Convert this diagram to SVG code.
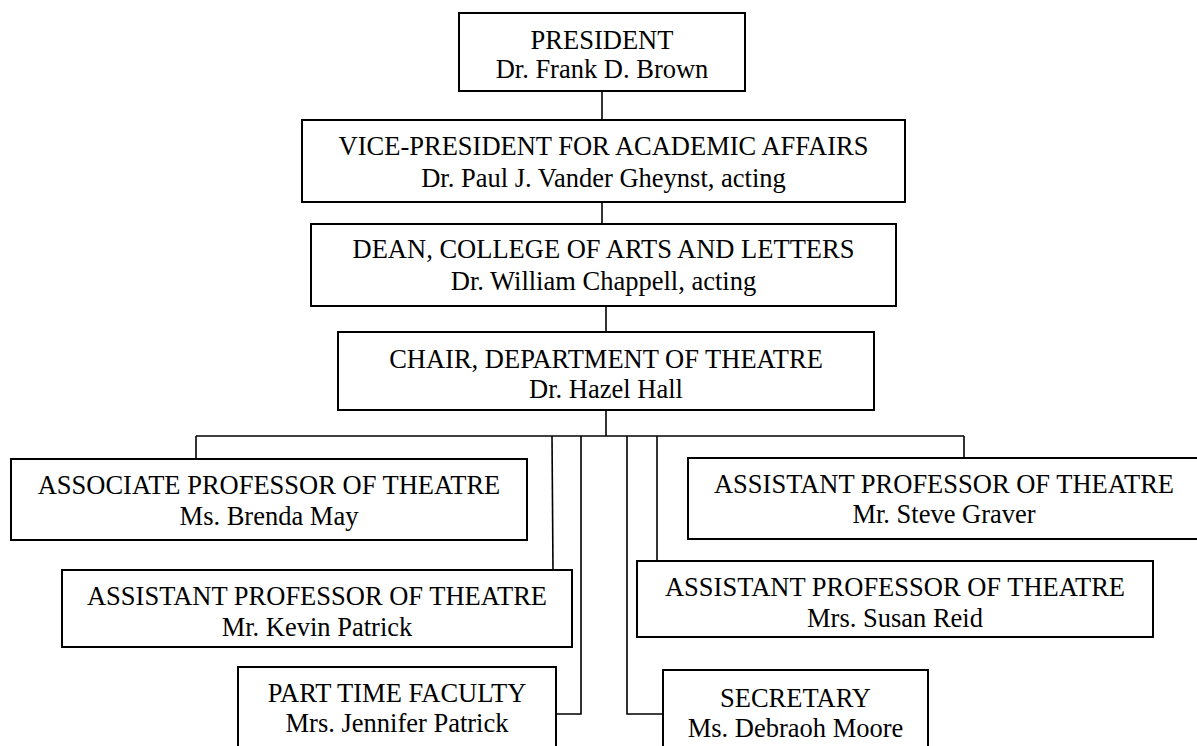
<svg xmlns="http://www.w3.org/2000/svg" width="1197" height="746" viewBox="0 0 1197 746">
<style>
.box{fill:#fff;stroke:#000;stroke-width:2}
text{font-family:'Liberation Serif','Times New Roman',Times,serif;font-size:26.5px;fill:#000;text-anchor:middle}
.c{fill:none;stroke:#000;stroke-width:1.6}
</style>
<rect width="1197" height="746" fill="#fff"/>
<g id="connectors">
<path class="c" d="M602 91V120"/>
<path class="c" d="M602 202V224"/>
<path class="c" d="M606 306V332"/>
<path class="c" d="M606 410V436"/>
<path class="c" d="M196 436H964"/>
<path class="c" d="M196 436V459"/>
<path class="c" d="M964 436V458"/>
<path class="c" d="M552 436L553 570"/>
<path class="c" d="M581 436V714H556"/>
<path class="c" d="M627 436V714H663"/>
<path class="c" d="M657 436V561"/>
</g>
<g id="president">
<rect class="box" x="459" y="13" width="286" height="78"/>
<text x="602" y="49">PRESIDENT</text>
<text x="602" y="78">Dr. Frank D. Brown</text>
</g>
<g id="vp">
<rect class="box" x="302" y="120" width="603" height="82"/>
<text x="603.5" y="155">VICE-PRESIDENT FOR ACADEMIC AFFAIRS</text>
<text x="603.5" y="187">Dr. Paul J. Vander Gheynst, acting</text>
</g>
<g id="dean">
<rect class="box" x="311" y="224" width="585" height="82"/>
<text x="603.5" y="258">DEAN, COLLEGE OF ARTS AND LETTERS</text>
<text x="603.5" y="290">Dr. William Chappell, acting</text>
</g>
<g id="chair">
<rect class="box" x="338" y="332" width="536" height="78"/>
<text x="606" y="368">CHAIR, DEPARTMENT OF THEATRE</text>
<text x="606" y="398">Dr. Hazel Hall</text>
</g>
<g id="associate">
<rect class="box" x="11" y="459" width="516" height="81"/>
<text x="269" y="494">ASSOCIATE PROFESSOR OF THEATRE</text>
<text x="269" y="525">Ms. Brenda May</text>
</g>
<g id="kevin">
<rect class="box" x="62" y="570" width="510" height="77"/>
<text x="317" y="605">ASSISTANT PROFESSOR OF THEATRE</text>
<text x="317" y="636">Mr. Kevin Patrick</text>
</g>
<g id="parttime">
<rect class="box" x="238" y="667" width="318" height="100"/>
<text x="397" y="702">PART TIME FACULTY</text>
<text x="397" y="732">Mrs. Jennifer Patrick</text>
</g>
<g id="steve">
<rect class="box" x="688" y="458" width="512" height="81"/>
<text x="944" y="493">ASSISTANT PROFESSOR OF THEATRE</text>
<text x="944" y="523">Mr. Steve Graver</text>
</g>
<g id="susan">
<rect class="box" x="637" y="561" width="516" height="76"/>
<text x="895" y="596">ASSISTANT PROFESSOR OF THEATRE</text>
<text x="895" y="627">Mrs. Susan Reid</text>
</g>
<g id="secretary">
<rect class="box" x="663" y="670" width="265" height="100"/>
<text x="795.5" y="707">SECRETARY</text>
<text x="795.5" y="737">Ms. Debraoh Moore</text>
</g>
</svg>
